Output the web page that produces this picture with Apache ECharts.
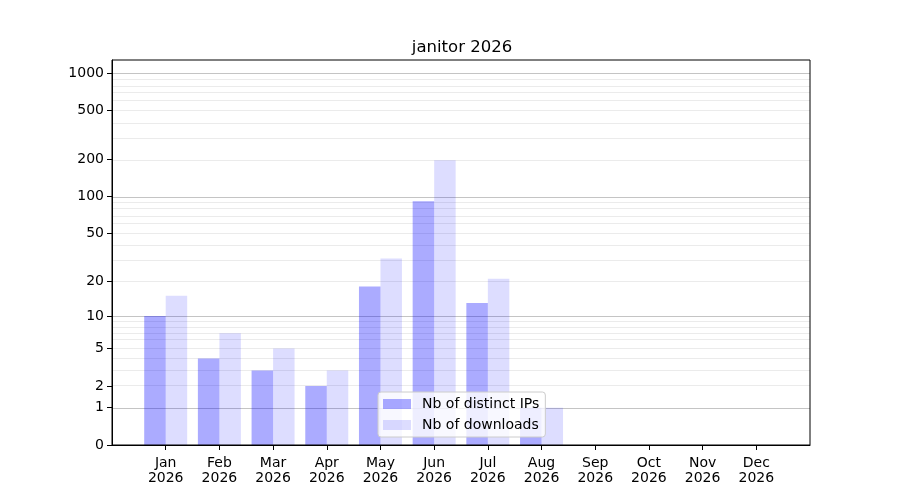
<!DOCTYPE html>
<html>
<head>
<meta charset="utf-8">
<script src="https://cdn.jsdelivr.net/npm/echarts@6/dist/echarts.min.js"></script>
<style>
  html, body { margin: 0; padding: 0; background: #fff; }
  #chart { width: 900px; height: 500px; }
</style>
</head>
<body>
<div id="chart"></div>
<script>
// ---- DATA ----
const months = ['Jan', 'Feb', 'Mar', 'Apr', 'May', 'Jun', 'Jul', 'Aug', 'Sep', 'Oct', 'Nov', 'Dec'];
const year = '2026';
const distinctIPs = [10, 4, 3, 2, 18, 92, 13, 1, 0, 0, 0, 0];
const downloads = [15, 7, 5, 3, 31, 198, 21, 1, 0, 0, 0, 0];
const yTickLabels = [0, 1, 2, 5, 10, 20, 50, 100, 200, 500, 1000];
const majorGrid = [1, 10, 100, 1000];
const minorGrid = [2, 3, 4, 5, 6, 7, 8, 9, 20, 30, 40, 50, 60, 70, 80, 90,
                   200, 300, 400, 500, 600, 700, 800, 900];

// y scale is log10(v + 1)
const tr = v => Math.log10(v + 1);

// pad one empty slot each side, like xlim 0..13
const cats = [''].concat(months.map(m => m + '\n' + year), ['']);
const pad = arr => [null].concat(arr.map(tr), [null]);
const inside = idx => idx > 0 && idx < cats.length - 1;

const chart = echarts.init(document.getElementById('chart'), null, { renderer: 'canvas' });
chart.setOption({
  animation: false,
  backgroundColor: '#fff',
  textStyle: { fontFamily: 'DejaVu Sans' },
  title: {
    text: 'janitor 2026',
    left: 457,
    top: 34,
    textAlign: 'center',
    textStyle: { fontFamily: 'DejaVu Sans', fontSize: 16.5, fontWeight: 'normal', color: '#000' }
  },
  grid: {
    left: 112, right: 90, top: 60, bottom: 55,
    show: true, borderColor: '#000', borderWidth: 1, backgroundColor: 'transparent', z: 3
  },
  legend: {
    orient: 'vertical',
    left: 378, top: 392,
    padding: [5, 6, 5, 5],
    itemWidth: 28, itemHeight: 10, itemGap: 7,
    icon: 'rect',
    backgroundColor: 'rgba(255,255,255,0.8)',
    borderColor: '#cccccc', borderWidth: 1, borderRadius: 3,
    textStyle: { fontFamily: 'DejaVu Sans', fontSize: 14, color: '#000', padding: [0, 0, 0, 6] },
    data: ['Nb of distinct IPs', 'Nb of downloads']
  },
  xAxis: {
    type: 'category',
    data: cats,
    boundaryGap: false,
    axisLine: { show: true, lineStyle: { color: '#000', width: 1 } },
    axisTick: { show: true, interval: inside, length: 5, lineStyle: { color: '#000' } },
    axisLabel: {
      interval: inside,
      margin: 11,
      color: '#000',
      fontFamily: 'DejaVu Sans',
      fontSize: 14,
      lineHeight: 15
    },
    splitLine: { show: false }
  },
  yAxis: {
    type: 'value',
    min: 0,
    max: 3.108,
    axisLine: { show: true, lineStyle: { color: '#000', width: 1 } },
    axisTick: { show: true, length: 5, lineStyle: { color: '#000' }, customValues: yTickLabels.map(tr) },
    axisLabel: {
      customValues: yTickLabels.map(tr),
      formatter: v => String(Math.round(Math.pow(10, v) - 1)),
      margin: 8,
      color: '#000',
      fontFamily: 'DejaVu Sans',
      fontSize: 14
    },
    splitLine: { show: false }
  },
  series: [
    {
      name: 'grid',
      type: 'line',
      data: [],
      z: 0,
      silent: true,
      markLine: {
        z: 0,
        silent: true,
        symbol: ['none', 'none'],
        label: { show: false },
        emphasis: { disabled: true },
        data: minorGrid.map(v => ({ yAxis: tr(v), lineStyle: { color: '#ebebeb', width: 1, type: 'solid' } }))
          .concat(majorGrid.map(v => ({ yAxis: tr(v), lineStyle: { color: '#c4c4c4', width: 1, type: 'solid' } })))
      }
    },
    {
      name: 'Nb of distinct IPs',
      type: 'bar',
      data: pad(distinctIPs),
      barWidth: 21.5,
      barGap: '0%',
      z: 2,
      itemStyle: { color: 'rgba(0,0,255,0.33)' }
    },
    {
      name: 'Nb of downloads',
      type: 'bar',
      data: pad(downloads),
      barWidth: 21.5,
      barGap: '0%',
      z: 2,
      itemStyle: { color: 'rgba(0,0,255,0.134)' }
    }
  ]
});
</script>
</body>
</html>
